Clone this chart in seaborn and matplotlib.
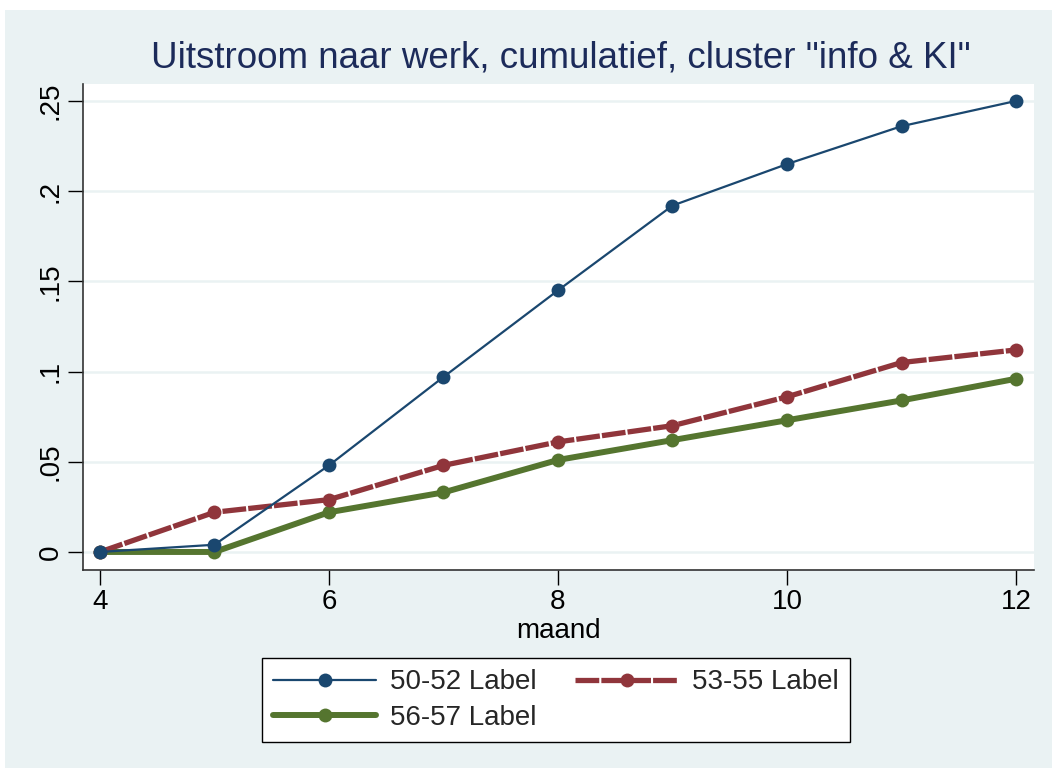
import numpy as np
import pandas as pd
import matplotlib
matplotlib.use("Agg")
import matplotlib.pyplot as plt
from matplotlib.patches import Rectangle
import seaborn as sns

maand = [4, 5, 6, 7, 8, 9, 10, 11, 12]
lab_50_52 = [0.0, 0.004, 0.048, 0.097, 0.145, 0.192, 0.215, 0.236, 0.250]
lab_53_55 = [0.0, 0.022, 0.029, 0.048, 0.061, 0.070, 0.086, 0.105, 0.112]
lab_56_57 = [0.0, 0.0, 0.022, 0.033, 0.051, 0.062, 0.073, 0.084, 0.096]
y_ticks = [0, 0.05, 0.1, 0.15, 0.2, 0.25]
y_labels = ["0", ".05", ".1", ".15", ".2", ".25"]
x_ticks = [4, 6, 8, 10, 12]

navy = "#1a476f"
maroon = "#90353b"
green = "#55752f"
bg = "#eaf2f3"

sns.set_theme(style="white")
plt.rcParams["font.family"] = ["Liberation Sans", "DejaVu Sans"]

fig = plt.figure(figsize=(10.52, 7.72), dpi=100, facecolor="white")
fig.add_artist(Rectangle((5 / 1052, 4 / 772), 1 - 5 / 1052, 1 - 14 / 772,
                         transform=fig.transFigure, facecolor=bg,
                         edgecolor="none", zorder=0))
ax = fig.add_axes([83 / 1052, 1 - 570 / 772, (1034 - 83) / 1052, (570 - 84) / 772])
ax.set_facecolor("white")

df = pd.DataFrame({"maand": maand, "a": lab_50_52, "b": lab_53_55, "c": lab_56_57})

sns.lineplot(data=df, x="maand", y="a", ax=ax, color=navy, lw=1.6,
             marker="o", markersize=10, markeredgewidth=0, label="50-52 Label", zorder=5)
sns.lineplot(data=df, x="maand", y="b", ax=ax, color=maroon, lw=3.8,
             marker="o", markersize=10, markeredgewidth=0, label="53-55 Label", zorder=4)
sns.lineplot(data=df, x="maand", y="c", ax=ax, color=green, lw=4.3,
             marker="o", markersize=10, markeredgewidth=0, label="56-57 Label", zorder=3)
ax.lines[1].set_dashes((4.5, 0.4))

ax.set_xlim(3.852, 12.157)
ax.set_ylim(-0.01, 0.2594)
ax.set_xticks(x_ticks)
ax.set_yticks(y_ticks)
ax.set_yticklabels(y_labels, rotation=90, va="center")
ax.tick_params(axis="both", labelsize=20, length=11, width=1, color="black",
               direction="out", pad=3, left=True, bottom=True)
for t in ax.get_yticklabels() + ax.get_xticklabels():
    t.set_color("black")
ax.grid(axis="y", color=bg, lw=1.8)
ax.set_axisbelow(True)
for s in ["top", "right"]:
    ax.spines[s].set_visible(False)
for s in ["left", "bottom"]:
    ax.spines[s].set_color("#333333")
    ax.spines[s].set_linewidth(1.2)

ax.set_xlabel("maand", fontsize=20, color="black", labelpad=1.5)
ax.set_ylabel("")
fig.text(0.533, 0.925, 'Uitstroom naar werk, cumulatief, cluster "info & KI"',
         ha="center", va="center", fontsize=26.5, color="#1c2b5a")

h, l = ax.get_legend_handles_labels()
ax.get_legend().remove()
leg = fig.legend([h[0], h[2], h[1]], [l[0], l[2], l[1]], ncol=2,
                 loc="center", bbox_to_anchor=(556 / 1052, 1 - 700 / 772),
                 fontsize=20, frameon=True, fancybox=False, edgecolor="black",
                 framealpha=1, handlelength=3.7, handletextpad=0.5,
                 columnspacing=1.4, borderpad=0.4, labelspacing=0.33)
leg.get_frame().set_linewidth(1.0)

fig.savefig("out.png", dpi=100, facecolor=fig.get_facecolor())
